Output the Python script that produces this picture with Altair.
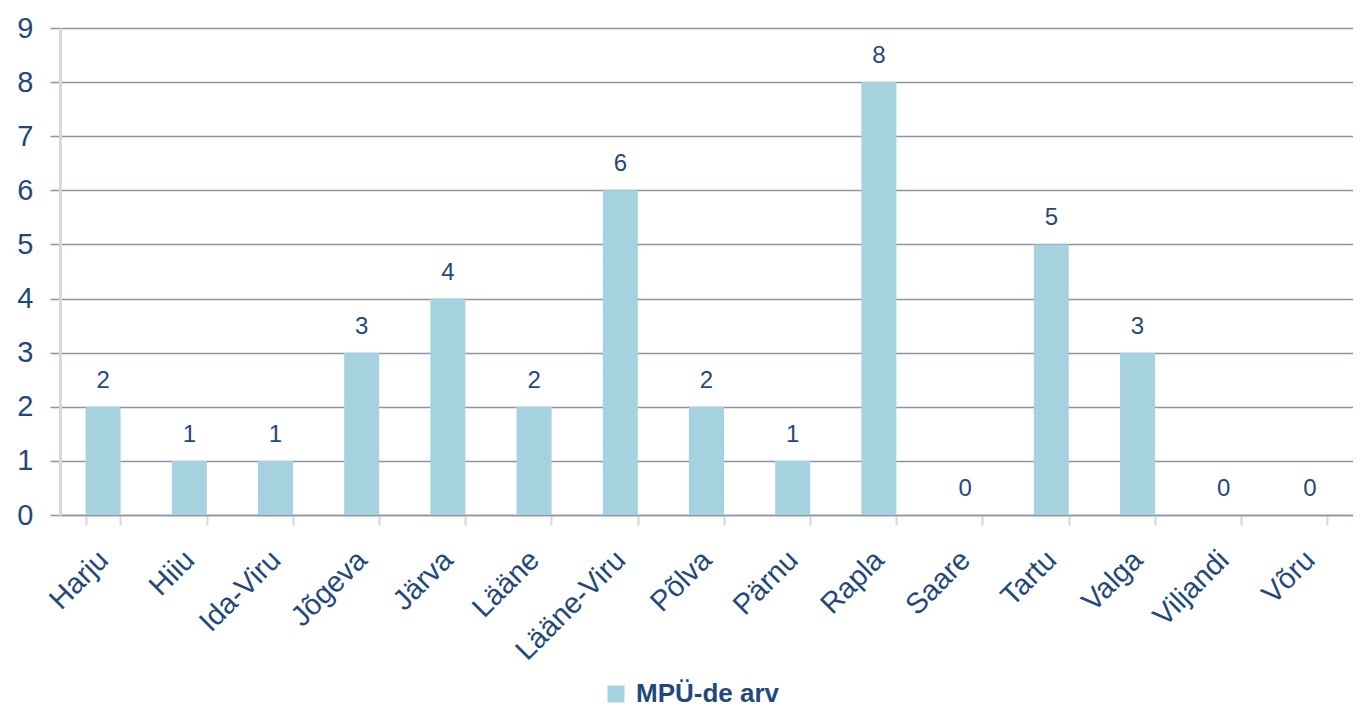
import altair as alt
import pandas as pd

categories = ["Harju", "Hiiu", "Ida-Viru", "Jõgeva", "Järva", "Lääne", "Lääne-Viru",
              "Põlva", "Pärnu", "Rapla", "Saare", "Tartu", "Valga", "Viljandi", "Võru"]
values = [2, 1, 1, 3, 4, 2, 6, 2, 1, 8, 0, 5, 3, 0, 0]
series_name = "MPÜ-de arv"
y_ticks = list(range(0, 10))

df = pd.DataFrame({"maakond": categories, "arv": values, "series": series_name})

TEXT = "#1F497D"
BAR = "#A6D2DF"
GRID = "#8C93A6"
FONT = "Liberation Sans"

base = alt.Chart(df).encode(
    x=alt.X("maakond:N", sort=categories,
            scale=alt.Scale(paddingInner=0.6, paddingOuter=0.3),
            axis=alt.Axis(title=None, labelAngle=-45, labelAlign="right", labelBaseline="middle",
                          labelFont=FONT, labelFontSize=29, labelColor=TEXT, labelPadding=30,
                          tickBand="extent", tickSize=10, tickWidth=2, tickColor="#D3D6DE",
                          domainColor=GRID, domainWidth=1.5, grid=False)),
)

bars = base.mark_bar(size=35).encode(
    y=alt.Y("arv:Q", scale=alt.Scale(domain=[0, 9], nice=False),
            axis=alt.Axis(title=None, values=y_ticks, format="d", labelFont=FONT, labelFontSize=29,
                          labelColor=TEXT, labelPadding=17, tickSize=10, tickColor=GRID,
                          tickWidth=1.5, grid=True, gridColor=GRID, gridWidth=1.5,
                          domainColor="#D5D8E0", domainWidth=3)),
    color=alt.Color("series:N", scale=alt.Scale(range=[BAR]),
                    legend=alt.Legend(title=None, orient="none", legendX=543, legendY=653,
                                      symbolType="square", symbolSize=290, symbolStrokeWidth=0,
                                      labelFont=FONT, labelFontSize=26, labelFontWeight="bold",
                                      labelColor=TEXT, padding=0, labelOffset=7)),
)

labels = base.mark_text(baseline="alphabetic", dy=-19, font=FONT, fontSize=24, color=TEXT).encode(
    y=alt.Y("arv:Q"),
    text=alt.Text("arv:Q"),
)

chart = (bars + labels).properties(
    width=1293, height=487,
    padding={"left": 52, "top": 20, "right": 0, "bottom": 196},
    autosize=alt.AutoSizeParams(type="none"),
).configure_view(stroke=None).configure(background="white")

chart.save("out.html", embed_options={"renderer": "svg", "actions": False})
